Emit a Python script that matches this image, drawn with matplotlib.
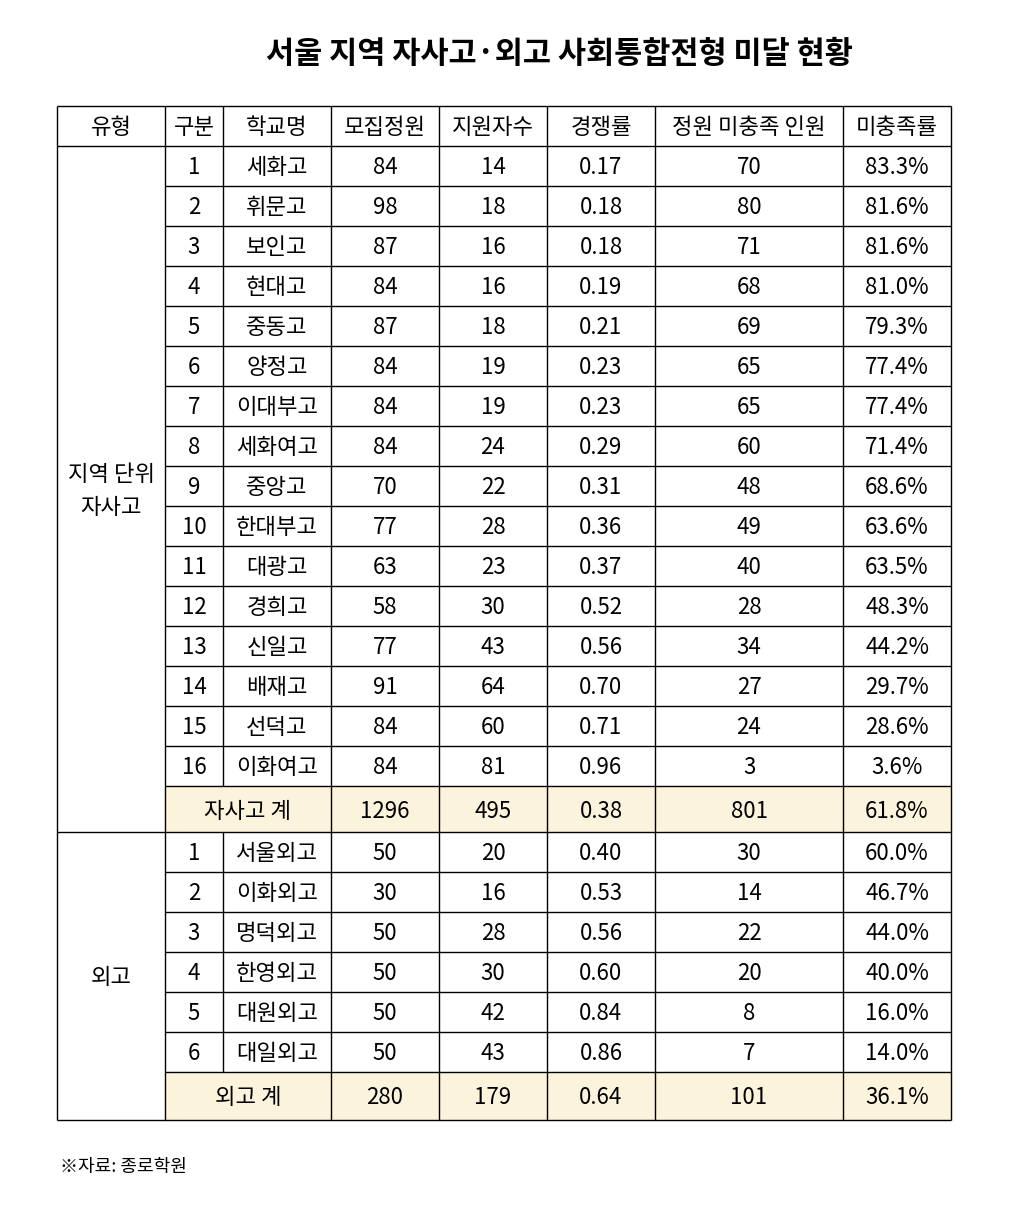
import matplotlib
matplotlib.use("Agg")
import matplotlib.pyplot as plt
from matplotlib.patches import Rectangle

plt.rcParams['font.family'] = ['Noto Sans CJK KR', 'DejaVu Sans']

title = "서울 지역 자사고·외고 사회통합전형 미달 현황"
headers = ["유형", "구분", "학교명", "모집정원", "지원자수", "경쟁률", "정원 미충족 인원", "미충족률"]

ja_names = ["세화고", "휘문고", "보인고", "현대고", "중동고", "양정고", "이대부고", "세화여고",
            "중앙고", "한대부고", "대광고", "경희고", "신일고", "배재고", "선덕고", "이화여고"]
ja_quota = [84, 98, 87, 84, 87, 84, 84, 84, 70, 77, 63, 58, 77, 91, 84, 84]
ja_apply = [14, 18, 16, 16, 18, 19, 19, 24, 22, 28, 23, 30, 43, 64, 60, 81]
ja_rate = ["0.17", "0.18", "0.18", "0.19", "0.21", "0.23", "0.23", "0.29", "0.31", "0.36",
           "0.37", "0.52", "0.56", "0.70", "0.71", "0.96"]
ja_short = [70, 80, 71, 68, 69, 65, 65, 60, 48, 49, 40, 28, 34, 27, 24, 3]
ja_pct = ["83.3%", "81.6%", "81.6%", "81.0%", "79.3%", "77.4%", "77.4%", "71.4%", "68.6%",
          "63.6%", "63.5%", "48.3%", "44.2%", "29.7%", "28.6%", "3.6%"]
ja_total = ["자사고 계", "1296", "495", "0.38", "801", "61.8%"]

fl_names = ["서울외고", "이화외고", "명덕외고", "한영외고", "대원외고", "대일외고"]
fl_quota = [50, 30, 50, 50, 50, 50]
fl_apply = [20, 16, 28, 30, 42, 43]
fl_rate = ["0.40", "0.53", "0.56", "0.60", "0.84", "0.86"]
fl_short = [30, 14, 22, 20, 8, 7]
fl_pct = ["60.0%", "46.7%", "44.0%", "40.0%", "16.0%", "14.0%"]
fl_total = ["외고 계", "280", "179", "0.64", "101", "36.1%"]

source = "※자료: 종로학원"

W, H = 1010, 1211
fig = plt.figure(figsize=(W/100, H/100), dpi=100)
ax = fig.add_axes([0, 0, 1, 1])
ax.set_xlim(0, W); ax.set_ylim(H, 0); ax.axis('off')

cx = [57, 165, 223, 331, 439, 547, 655, 843, 951]
fs = 16
dy = 2
lw = 1.0
total_bg = '#FBF3DC'

def line(x0, x1, y0, y1):
    ax.plot([x0, x1], [y0, y1], color='black', lw=lw, solid_capstyle='butt')

def mid(i):
    return (cx[i] + cx[i+1]) / 2

def txt(x, y, s, **kw):
    ax.text(x, y + dy, s, ha='center', va='center', fontsize=fs, **kw)

ax.text(559, 54, title, ha='center', va='center', fontsize=22, fontweight='bold')

y_top = 106
y_h = 146
for i, h in enumerate(headers):
    txt(mid(i), (y_top + y_h) / 2, h)

def block(y0, names, quota, apply, rate, short, pct, total, group_label, rh=40, th=46):
    n = len(names)
    for r in range(n):
        y = y0 + r * rh
        yc = y + rh / 2
        vals = [str(r + 1), names[r], str(quota[r]), str(apply[r]), rate[r], str(short[r]), pct[r]]
        for j, v in enumerate(vals):
            txt(mid(j + 1), yc, v)
        if r > 0:
            line(cx[1], cx[-1], y, y)
    yt = y0 + n * rh
    ax.add_patch(Rectangle((cx[1], yt), cx[-1] - cx[1], th, color=total_bg, zorder=0))
    line(cx[1], cx[-1], yt, yt)
    ytc = yt + th / 2
    txt((cx[1] + cx[3]) / 2, ytc, total[0])
    for j, v in enumerate(total[1:]):
        txt(mid(j + 3), ytc, v)
    yend = yt + th
    for k, x in enumerate(cx):
        if k == 2:
            line(x, x, y0, yt)
        else:
            line(x, x, y0, yend)
    txt(mid(0), (y0 + yend) / 2, group_label, linespacing=1.6)
    line(cx[0], cx[-1], yend, yend)
    return yend

line(cx[0], cx[-1], y_top, y_top)
for x in cx:
    line(x, x, y_top, y_h)
line(cx[0], cx[-1], y_h, y_h)
y1 = block(y_h, ja_names, ja_quota, ja_apply, ja_rate, ja_short, ja_pct, ja_total, "지역 단위\n자사고")
y2 = block(y1, fl_names, fl_quota, fl_apply, fl_rate, fl_short, fl_pct, fl_total, "외고", th=48)

ax.text(60, 1167, source, ha='left', va='center', fontsize=13)

fig.savefig('out.png', dpi=100, facecolor='white')
